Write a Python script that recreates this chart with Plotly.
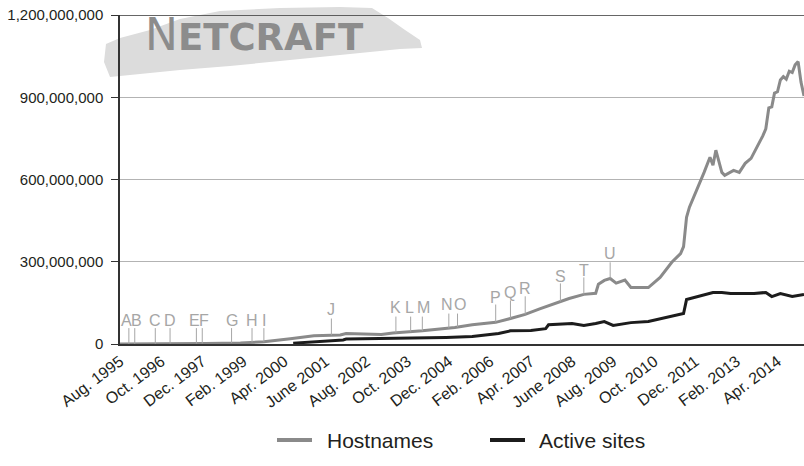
import numpy as np
import pandas as pd
import plotly.graph_objects as go

# ---------------- data ----------------
host_dates = ["1995-08","1996-01","1997-01","1998-01","1999-01","1999-09","2000-06","2001-02","2001-11","2002-01",
              "2003-01","2003-05","2004-03","2004-11","2005-02","2005-08","2006-01","2006-04","2006-09","2007-02",
              "2007-07","2008-02","2008-05","2008-10","2009-02","2009-03","2009-05","2009-07","2009-09","2009-12",
              "2010-02","2010-08","2010-12","2011-04","2011-07","2011-08","2011-09","2011-10","2011-12","2012-03",
              "2012-05","2012-06","2012-07","2012-09","2012-10","2013-01","2013-03","2013-05","2013-07","2013-10",
              "2013-11","2013-12","2014-01","2014-02","2014-03","2014-04","2014-05","2014-06","2014-07","2014-08",
              "2014-09","2014-10","2014-11","2014-12","2015-01"]
hostnames_m = [0.02,0.1,0.65,1.8,4,8,19,30,33,38,
               35,40,48,56,60,70,76,79,93,108,
               128,155,166,181,185,218,232,239,222,233,
               206,206,243,298,330,355,462,499,549,626,
               681,652,707,626,615,633,626,659,677,736,
               760,785,861,865,915,920,963,975,966,995,
               990,1018,1030,955,905]

active_dates = ["2000-07","2001-06","2001-12","2002-01","2003-06","2004-11","2005-08","2005-11","2006-05","2006-09",
                "2007-04","2007-09","2007-10","2008-06","2008-10","2009-02","2009-05","2009-08","2010-02","2010-08",
                "2011-02","2011-07","2011-08","2011-09","2012-02","2012-06","2012-09","2012-12","2013-08","2013-12",
                "2014-02","2014-05","2014-09","2015-01"]
active_m = [3,10,15,18,20,24,27,31,38,48,
            49,56,70,75,68,75,82,68,78,82,
            97,108,111,162,177,188,188,184,184,188,
            173,184,173,181]

marker_letters = list("ABCDEFGHIJKLMNOPQRSTU")
marker_dates = ["1995-11","1996-01","1996-08","1997-01","1997-10","1997-12","1998-10","1999-05","1999-09",
                "2001-08","2003-06","2003-11","2004-03","2004-12","2005-03","2006-04","2006-09","2007-02",
                "2008-02","2008-10","2009-07"]
marker_label_m = [86,86,86,86,86,86,86,86,86,126,133,133,133,144,144,170,188,203,247,268,331]
marker_top_m = [58,58,58,58,58,58,58,58,58,93,100,100,100,111,111,144,159,174,221,243,298]

tick_dates = ["1995-08-01","1996-10-01","1997-12-01","1999-02-01","2000-04-01","2001-06-01","2002-08-01",
              "2003-10-01","2004-12-01","2006-02-01","2007-04-01","2008-06-01","2009-08-01","2010-10-01",
              "2011-12-01","2013-02-01","2014-04-01"]
tick_labels = ["Aug. 1995","Oct. 1996","Dec. 1997","Feb. 1999","Apr. 2000","June 2001","Aug. 2002",
               "Oct. 2003","Dec. 2004","Feb. 2006","Apr. 2007","June 2008","Aug. 2009","Oct. 2010",
               "Dec. 2011","Feb. 2013","Apr. 2014"]
y_ticks = [0, 300e6, 600e6, 900e6, 1200e6]
y_labels = ["0", "300,000,000", "600,000,000", "900,000,000", "1,200,000,000"]

series_names = ["Hostnames", "Active sites"]
series_colors = ["#8a8a8a", "#1c1c1c"]

# small horizontal nudges (px) for crowded event letters (style only)
letter_nudge = {"A": -2, "B": 2, "E": -2, "F": 2, "N": -2, "O": 2, "L": -1, "M": 1}

# ---------------- figure ----------------
FONT = "Liberation Sans, Arial, sans-serif"
W, H = 804, 466
L, R, T, B = 120, 0, 15, 122
pw, ph = W - L - R, H - T - B

def px(xp):  # pixel -> paper x
    return (xp - L) / pw

def py(yp):  # pixel -> paper y
    return (H - B - yp) / ph

host_vals = [v * 1e6 for v in hostnames_m]
act_vals = [v * 1e6 for v in active_m]

fig = go.Figure()
fig.add_trace(go.Scatter(x=host_dates, y=host_vals, mode="lines", name=series_names[0],
                         line=dict(color=series_colors[0], width=3), showlegend=False))
fig.add_trace(go.Scatter(x=active_dates, y=act_vals, mode="lines", name=series_names[1],
                         line=dict(color=series_colors[1], width=3), showlegend=False))

# event markers: line from hostnames curve up to the letter
hx = pd.to_datetime(host_dates).astype("int64").to_numpy()
mx = pd.to_datetime(marker_dates).astype("int64").to_numpy()
bottoms = np.interp(mx, hx, np.array(host_vals))
shapes = []
annotations = []
for let, d, lab, top, bot in zip(marker_letters, marker_dates, marker_label_m, marker_top_m, bottoms):
    shapes.append(dict(type="line", xref="x", yref="y", x0=d, x1=d, y0=bot, y1=top * 1e6,
                       line=dict(color="#a6a6a6", width=1), layer="above"))
    annotations.append(dict(x=d, y=lab * 1e6, xref="x", yref="y", text=let, showarrow=False,
                            xshift=letter_nudge.get(let, 0),
                            font=dict(family=FONT, size=16, color="#a6a6a6"),
                            xanchor="center", yanchor="middle"))

# Netcraft logo: brush stroke + wordmark
stroke_pts = [(106,44),(120,38),(150,30),(180,19),(220,11),(280,8),(340,7),(372,8),(388,18),
              (405,30),(420,40),(422,48),(400,49),(370,52),(330,56),(280,61),(230,66),(180,70),
              (140,74),(110,77),(104,62)]
path = "M " + " L ".join(f"{px(a):.4f},{py(b):.4f}" for a, b in stroke_pts) + " Z"
shapes.insert(0, dict(type="path", xref="paper", yref="paper", path=path,
                      fillcolor="#dcdcdc", line=dict(width=0), layer="below"))
annotations.append(dict(xref="paper", yref="paper", x=px(143), y=py(50), xanchor="left", yanchor="bottom",
                        text='<span style="font-size:44px">N</span><b>ETCRAFT</b>', showarrow=False,
                        yshift=-12,
                        font=dict(family="DejaVu Sans, sans-serif", size=37, color="#8c8c8c")))

# dark top border line
shapes.append(dict(type="line", xref="paper", yref="y", x0=0, x1=1, y0=1.2e9, y1=1.2e9,
                   line=dict(color="#333333", width=1.5), layer="above"))

# manual legend (keeps margins fixed)
leg_y = 440
leg_items = [(277, 312, 325), (490, 525, 537)]
for (x0, x1, xt), name, col in zip(leg_items, series_names, series_colors):
    shapes.append(dict(type="line", xref="paper", yref="paper", x0=px(x0), x1=px(x1),
                       y0=py(leg_y), y1=py(leg_y), line=dict(color=col, width=4)))
    annotations.append(dict(xref="paper", yref="paper", x=px(xt), y=py(leg_y), text=name,
                            showarrow=False, xanchor="left", yanchor="middle",
                            font=dict(family=FONT, size=21, color="#231f20")))

fig.update_layout(
    width=W, height=H,
    margin=dict(l=L, r=R, t=T, b=B, autoexpand=False),
    paper_bgcolor="white", plot_bgcolor="white",
    font=dict(family=FONT, color="#231f20"),
    shapes=shapes, annotations=annotations,
    showlegend=False,
    xaxis=dict(type="date", range=["1995-08-01", "2015-01-01"], tickvals=tick_dates, ticktext=tick_labels,
               tickangle=-37, tickfont=dict(family=FONT, size=16, color="#231f20"),
               showgrid=False, zeroline=False, showline=True, linecolor="#333333", linewidth=2,
               ticks="", automargin=False),
    yaxis=dict(range=[0, 1.2e9], tickvals=y_ticks, ticktext=y_labels,
               tickfont=dict(family=FONT, size=15, color="#231f20"),
               showgrid=True, gridcolor="#b3b3b3", gridwidth=1, zeroline=False,
               showline=True, linecolor="#333333", linewidth=1.5,
               ticks="outside", ticklen=7, tickcolor="#333333", ticklabelstandoff=5, automargin=False),
)

fig.write_html("out.html", config={"displayModeBar": False},
               post_script="document.body.style.margin='0';document.body.style.overflow='hidden';")
